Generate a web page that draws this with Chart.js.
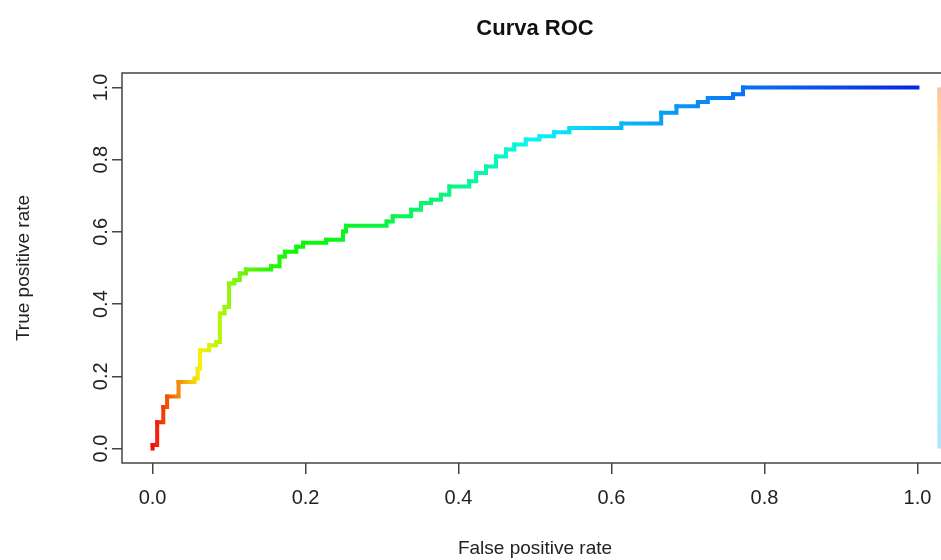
<!DOCTYPE html>
<html>
<head>
<meta charset="utf-8">
<script src="https://cdn.jsdelivr.net/npm/chart.js@4.4.1/dist/chart.umd.min.js"></script>
<style>
  html, body { margin: 0; padding: 0; background: #fff; overflow: hidden; }
  canvas { display: block; }
</style>
</head>
<body>
<canvas id="rocChart" width="960" height="560"></canvas>
<script>
// Curva ROC - vértices da escada (FPR, TPR)
const fpr = [0, 0, 0.006, 0.014, 0.019, 0.034, 0.055, 0.059, 0.062, 0.074, 0.083, 0.088, 0.094,
  0.100, 0.107, 0.114, 0.122, 0.155, 0.166, 0.173, 0.188, 0.197, 0.227, 0.249, 0.253, 0.306,
  0.314, 0.338, 0.351, 0.364, 0.377, 0.388, 0.414, 0.423, 0.436, 0.449, 0.462, 0.473, 0.488,
  0.506, 0.525, 0.545, 0.613, 0.665, 0.685, 0.713, 0.726, 0.759, 0.772, 1.000];
const tpr = [0, 0.010, 0.073, 0.115, 0.144, 0.184, 0.194, 0.221, 0.272, 0.286, 0.295, 0.374, 0.392,
  0.457, 0.467, 0.485, 0.496, 0.505, 0.531, 0.545, 0.559, 0.570, 0.578, 0.601, 0.617, 0.629,
  0.643, 0.661, 0.680, 0.689, 0.703, 0.726, 0.740, 0.763, 0.781, 0.809, 0.828, 0.842, 0.856,
  0.865, 0.876, 0.888, 0.900, 0.930, 0.948, 0.960, 0.971, 0.981, 1.000, 1.000];
const xTicks = [0, 0.2, 0.4, 0.6, 0.8, 1.0];
const yTicks = [0, 0.2, 0.4, 0.6, 0.8, 1.0];

// cor ao longo da curva (vermelho -> amarelo -> verde -> ciano -> azul)
const hueStops = [[0, 0], [0.03, 28], [0.06, 58], [0.1, 85], [0.15, 112], [0.3, 134],
  [0.42, 158], [0.5, 180], [0.65, 200], [0.78, 214], [1, 232]];
function corPorFpr(x) {
  let h = hueStops[hueStops.length - 1][1];
  for (let i = 1; i < hueStops.length; i++) {
    if (x <= hueStops[i][0]) {
      const [x0, h0] = hueStops[i - 1], [x1, h1] = hueStops[i];
      h = h0 + (h1 - h0) * (x - x0) / (x1 - x0);
      break;
    }
  }
  const light = h > 215 ? 46 : 50;
  return `hsl(${h.toFixed(0)}, 92%, ${light}%)`;
}

// gradiente horizontal em cada trecho da escada
function corTrecho(c) {
  const i0 = c.p0DataIndex, i1 = c.p1DataIndex;
  const ctx = c.chart.ctx;
  if (Math.abs(c.p1.x - c.p0.x) < 1) return corPorFpr(fpr[i1]);
  const g = ctx.createLinearGradient(c.p0.x, 0, c.p1.x, 0);
  g.addColorStop(0, corPorFpr(fpr[i0]));
  g.addColorStop(1, corPorFpr(fpr[i1]));
  return g;
}

const points = fpr.map((x, i) => ({ x: x, y: tpr[i] }));
const fonte = 'Liberation Sans, Arial, Helvetica, sans-serif';
const corEixo = '#444';

// moldura do gráfico e barra de cores à direita
const boxPlugin = {
  id: 'boxPlugin',
  afterDraw(chart) {
    const { ctx, chartArea: a, scales } = chart;
    ctx.save();
    const bx = scales.x.getPixelForValue(1.026);
    const y0 = scales.y.getPixelForValue(0), y1 = scales.y.getPixelForValue(1);
    const g = ctx.createLinearGradient(0, y1, 0, y0);
    g.addColorStop(0, 'rgba(255,140,80,0.55)');
    g.addColorStop(0.25, 'rgba(255,240,60,0.55)');
    g.addColorStop(0.5, 'rgba(120,255,120,0.55)');
    g.addColorStop(0.75, 'rgba(90,240,240,0.55)');
    g.addColorStop(1, 'rgba(120,200,255,0.55)');
    ctx.fillStyle = g;
    ctx.fillRect(bx, y1, 8, y0 - y1);
    ctx.strokeStyle = corEixo;
    ctx.lineWidth = 1.5;
    ctx.strokeRect(a.left, a.top, a.right - a.left, a.bottom - a.top);
    ctx.restore();
  }
};

new Chart(document.getElementById('rocChart'), {
  type: 'line',
  data: {
    datasets: [{
      label: 'ROC',
      data: points,
      stepped: 'before',
      borderWidth: 4,
      borderCapStyle: 'square',
      borderJoinStyle: 'miter',
      pointRadius: 0,
      fill: false,
      segment: { borderColor: corTrecho }
    }]
  },
  options: {
    responsive: false,
    animation: false,
    layout: { padding: { left: 12, top: 0, right: 12, bottom: 0 } },
    plugins: {
      legend: { display: false },
      tooltip: { enabled: false },
      title: {
        display: true,
        text: 'Curva ROC',
        fullSize: false,
        color: '#111',
        font: { family: fonte, size: 22, weight: 'bold' },
        padding: { top: 16, bottom: 30.6 }
      }
    },
    scales: {
      x: {
        type: 'linear',
        min: -0.04,
        max: 1.04,
        afterBuildTicks: s => { s.ticks = xTicks.map(v => ({ value: v })); },
        afterFit: s => { s.height = 97; },
        border: { display: false },
        grid: { drawOnChartArea: false, drawTicks: true, tickLength: 11, tickColor: corEixo, lineWidth: 1.5 },
        ticks: {
          color: '#222',
          font: { family: fonte, size: 20 },
          padding: 12,
          maxRotation: 0,
          callback: v => Number(v).toFixed(1)
        },
        title: {
          display: true,
          text: 'False positive rate',
          color: '#222',
          font: { family: fonte, size: 19 },
          padding: 0
        }
      },
      y: {
        type: 'linear',
        min: -0.04,
        max: 1.04,
        afterBuildTicks: s => { s.ticks = yTicks.map(v => ({ value: v })); },
        afterFit: s => { s.width = 110; },
        border: { display: false },
        grid: { drawOnChartArea: false, drawTicks: true, tickLength: 10, tickColor: corEixo, lineWidth: 1.5 },
        ticks: {
          color: '#222',
          font: { family: fonte, size: 20 },
          padding: -3,
          minRotation: 90,
          maxRotation: 90,
          crossAlign: 'center',
          callback: v => Number(v).toFixed(1)
        },
        title: {
          display: true,
          text: 'True positive rate',
          color: '#222',
          font: { family: fonte, size: 19 },
          padding: 0
        }
      }
    }
  },
  plugins: [boxPlugin]
});
</script>
</body>
</html>
